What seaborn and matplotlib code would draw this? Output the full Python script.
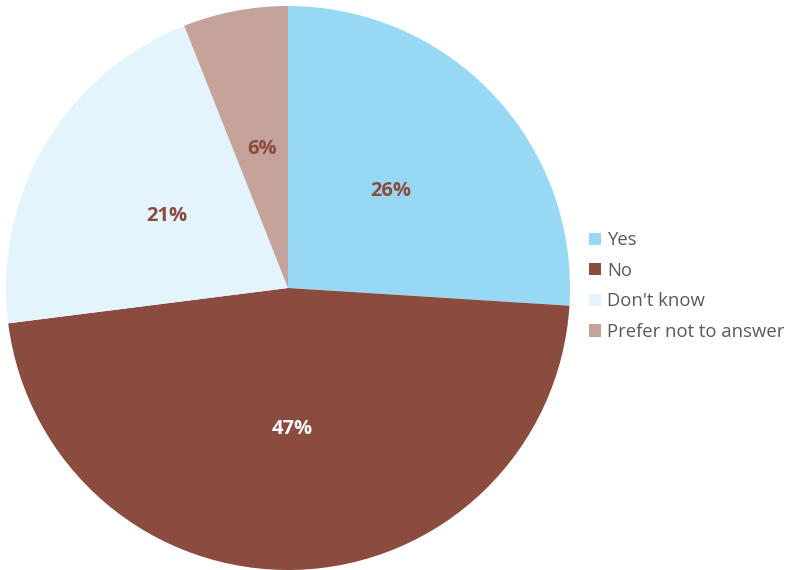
import matplotlib
matplotlib.use("Agg")
import matplotlib.pyplot as plt
import seaborn as sns
from matplotlib.patches import Patch

categories = ["Yes", "No", "Don't know", "Prefer not to answer"]
values = [26, 47, 21, 6]
colors = ["#97D9F5", "#8B4C3F", "#E3F4FC", "#C5A39B"]
label_colors = ["#8B4C3F", "#FFFFFF", "#8B4C3F", "#8B4C3F"]

sns.set_theme(style="white")
plt.rcParams['font.family'] = ['Open Sans', 'DejaVu Sans']

palette = sns.color_palette(colors)
fig = plt.figure(figsize=(7.91, 5.70), dpi=100)
ax = fig.add_axes([6/791, 0/570, 564/791, 564/570])
wedges, texts, autotexts = ax.pie(values, colors=palette, startangle=90, counterclock=False,
                                  autopct=lambda p: f"{p:.0f}%", pctdistance=0.5,
                                  wedgeprops=dict(edgecolor="none", linewidth=0))
for t, c in zip(autotexts, label_colors):
    t.set_color(c)
    t.set_fontsize(14.5)
    t.set_fontweight("bold")
ax.set_xlim(-1, 1)
ax.set_ylim(-1, 1)
ax.set_aspect("equal")

handles = [Patch(facecolor=c, edgecolor="none") for c in palette]
fig.legend(handles, categories, loc="center left", bbox_to_anchor=(582/791, 1 - 286/570),
           frameon=False, fontsize=13.3, labelcolor="#595959", handlelength=0.65, handleheight=0.65,
           handletextpad=0.3, labelspacing=0.68, borderaxespad=0)
fig.savefig("out.png", dpi=100)
